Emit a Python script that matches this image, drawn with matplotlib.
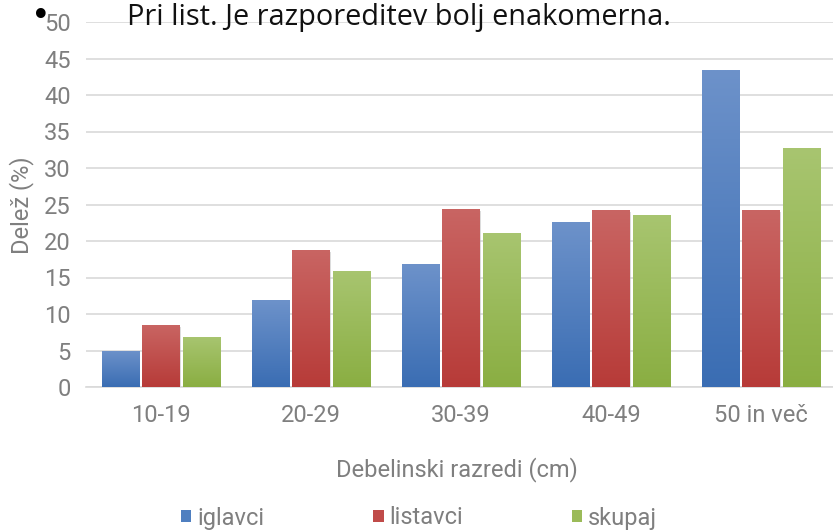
import numpy as np
import matplotlib
matplotlib.use("Agg")
import matplotlib.pyplot as plt
from matplotlib.colors import LinearSegmentedColormap

categories = ["10-19", "20-29", "30-39", "40-49", "50 in več"]
iglavci = [5.0, 11.9, 16.8, 22.6, 43.4]
listavci = [8.5, 18.8, 24.4, 24.2, 24.2]
skupaj = [6.9, 15.9, 21.1, 23.6, 32.7]
series_names = ["iglavci", "listavci", "skupaj"]
yticks = [0, 5, 10, 15, 20, 25, 30, 35, 40, 45, 50]

colors_top = ["#6d92ca", "#c96563", "#a8c570"]
colors_bot = ["#3a6db3", "#b73b38", "#8aae42"]
colors_mid = ["#4f7fc0", "#c04b49", "#9bbb59"]

FONT = "Roboto"
FS = 17
GRAY = "#7f7f7f"

W, H = 833, 531
fig = plt.figure(figsize=(W / 100, H / 100), dpi=100)
ax = fig.add_axes([86 / W, 1 - 387 / H, 750 / W, (387 - 22) / H])

x = np.arange(len(categories))
bw = 0.25
gap = 0.02
data = [iglavci, listavci, skupaj]
for i, (vals, name) in enumerate(zip(data, series_names)):
    offs = (i - 1) * (bw + gap)
    bars = ax.bar(x + offs, vals, width=bw, color=colors_mid[i], label=name,
                  zorder=3, linewidth=0)
    cmap = LinearSegmentedColormap.from_list("g%d" % i, [colors_bot[i], colors_top[i]])
    grad = np.linspace(0, 1, 256).reshape(-1, 1)
    for b in bars:
        bx, by = b.get_x(), b.get_y()
        bwid, bh = b.get_width(), b.get_height()
        ax.bar(bx + bwid / 2 + 0.006, bh, width=bwid, bottom=-0.25, color="#bbbbbb",
               alpha=0.5, zorder=2, linewidth=0)
        im = ax.imshow(grad, extent=[bx, bx + bwid, by, by + bh], origin="lower",
                       cmap=cmap, aspect="auto", zorder=4)
        im.set_clip_path(b)

ax.set_xlim(-0.5, 4.5)
ax.set_ylim(0, 50)
ax.set_yticks(yticks)
ax.set_xticks(x)
ax.set_xticklabels(categories)
ax.grid(axis="y", color="#d9d9d9", linewidth=1.2, zorder=0)
for s in ["top", "right", "left"]:
    ax.spines[s].set_visible(False)
ax.spines["bottom"].set_color("#d9d9d9")
ax.spines["bottom"].set_linewidth(1.2)
ax.tick_params(axis="both", length=0, colors=GRAY, labelsize=FS)
ax.tick_params(axis="y", pad=11)
ax.tick_params(axis="x", pad=12)
for lab in ax.get_xticklabels() + ax.get_yticklabels():
    lab.set_fontfamily(FONT)

fig.text(22 / W, 1 - 205 / H, "Delež (%)", rotation=90, ha="center", va="center",
         fontsize=FS, color=GRAY, family=FONT)
fig.text(457 / W, 1 - 470 / H, "Debelinski razredi (cm)", ha="center", va="center",
         fontsize=FS, color=GRAY, family=FONT)

leg = fig.legend(loc="center", bbox_to_anchor=(419 / W, 1 - 518 / H), ncol=3,
                 frameon=False, handlelength=0.45, handleheight=0.45,
                 handletextpad=0.25, columnspacing=4.6,
                 prop={"family": FONT, "size": FS})
for t in leg.get_texts():
    t.set_color(GRAY)

fig.text(41 / W, 1 - 17 / H, "•", ha="center", va="center", fontsize=24, color="black")
fig.text(127 / W, 1 - 17 / H, "Pri list. Je razporeditev bolj enakomerna.",
         ha="left", va="center", fontsize=20.8, color="#111111", family="Open Sans")

fig.savefig("out.png", dpi=100)
